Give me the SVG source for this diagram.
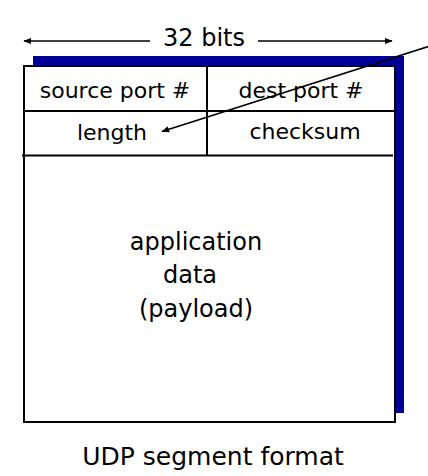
<svg xmlns="http://www.w3.org/2000/svg" width="428" height="476" viewBox="0 0 428 476">
<style>
text{font-family:"DejaVu Sans","Liberation Sans",sans-serif;fill:#000;text-anchor:middle}
.f{font-size:22px}
.b{font-size:24px}
.c{font-size:25px}
.ln{stroke:#000;stroke-width:2;fill:none}
.box{stroke:#000;stroke-width:2;fill:#fff}
</style>
<defs>
<marker id="ah" viewBox="0 0 10 10" refX="9" refY="5" markerWidth="8" markerHeight="8" orient="auto" markerUnits="userSpaceOnUse">
<path d="M0,1 L10,5 L0,9 Z" fill="#000"/>
</marker>
</defs>
<g id="shadow"><rect x="33" y="56" width="371" height="357" fill="#000099"/></g>
<g id="segment">
<rect x="24" y="66" width="371" height="356" class="box"/>
<line x1="24" y1="111" x2="395" y2="111" class="ln"/>
<line x1="22" y1="155.5" x2="393" y2="155.5" class="ln"/>
<line x1="207" y1="66" x2="207" y2="155.5" class="ln"/>
</g>
<g id="source-port"><text class="f" x="115" y="98">source port #</text></g>
<g id="dest-port"><text class="f" x="301" y="98">dest port #</text></g>
<g id="length"><text class="f" x="112" y="140">length</text></g>
<g id="checksum"><text class="f" x="305" y="139">checksum</text></g>
<g id="payload">
<text class="b" x="196" y="250">application</text>
<text class="b" x="190" y="283">data</text>
<text class="b" x="196" y="317">(payload)</text>
</g>
<g id="bits-label"><text class="b" x="204" y="46">32 bits</text></g>
<g id="caption"><text class="c" x="213" y="465">UDP segment format</text></g>
<g id="connectors">
<line x1="150" y1="41" x2="24" y2="41" stroke="#000" stroke-width="1.5" marker-end="url(#ah)"/>
<line x1="258" y1="41" x2="392" y2="41" stroke="#000" stroke-width="1.5" marker-end="url(#ah)"/>
<line x1="430" y1="46" x2="162" y2="131.5" stroke="#000" stroke-width="1.5" marker-end="url(#ah)"/>
</g>
</svg>
